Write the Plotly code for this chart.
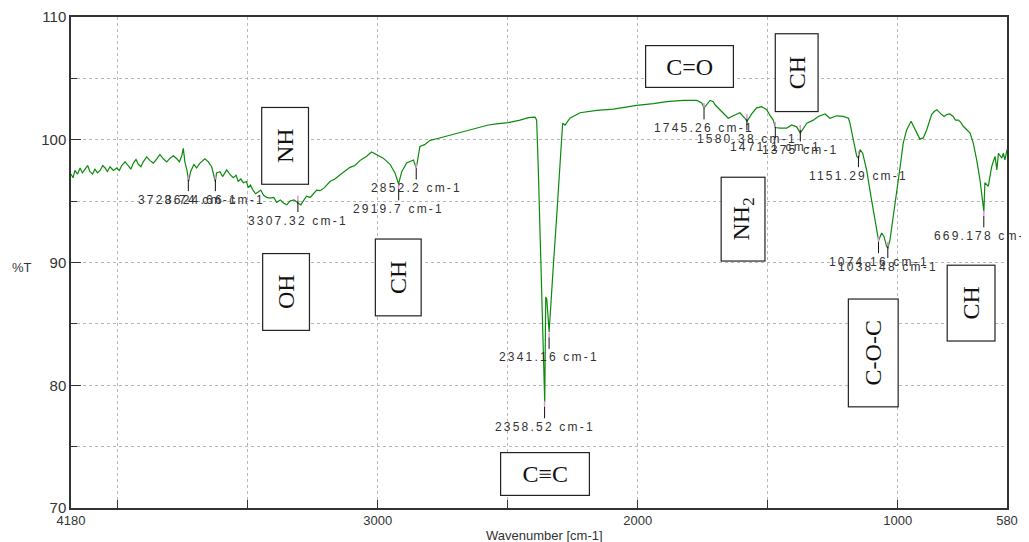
import plotly.graph_objects as go

# ---------------- data ----------------
wavenumber = [4180, 4172, 4165, 4155, 4145, 4136, 4126, 4116, 4107, 4097, 4088, 4078, 4068, 4058, 4049,
              4040, 4030, 4017, 4004, 3994, 3985, 3972, 3960, 3950, 3940, 3930, 3921, 3911, 3902, 3889,
              3876, 3863, 3850, 3838, 3825, 3812, 3799, 3786, 3773, 3763, 3754, 3748, 3742, 3733, 3728,
              3720, 3707, 3697, 3684, 3665, 3652, 3639, 3625, 3620, 3607, 3597, 3581, 3568, 3556, 3545,
              3537, 3527, 3517, 3505, 3498, 3490, 3479, 3470, 3460, 3450, 3440, 3428, 3415, 3400, 3389,
              3375, 3363, 3350, 3338, 3322, 3307, 3296, 3287, 3274, 3260, 3248, 3235, 3222, 3205, 3184,
              3165, 3145, 3125, 3107, 3088, 3069, 3055, 3043, 3024, 3004, 2979, 2953, 2934, 2920, 2908,
              2889, 2876, 2863, 2852, 2838, 2820, 2799, 2770, 2735, 2700, 2671, 2640, 2607, 2575, 2543,
              2498, 2453, 2421, 2395, 2389, 2383, 2376, 2370, 2364, 2360, 2358, 2354, 2350, 2341, 2331,
              2325, 2312, 2299, 2289, 2280, 2261, 2222, 2158, 2094, 2004, 1940, 1889, 1825, 1773, 1754,
              1745, 1722, 1710, 1703, 1671, 1652, 1633, 1607, 1588, 1580, 1562, 1543, 1524, 1504, 1492,
              1479, 1471, 1453, 1427, 1408, 1389, 1375, 1350, 1325, 1306, 1280, 1261, 1235, 1210, 1190,
              1184, 1171, 1158, 1151, 1145, 1135, 1120, 1101, 1081, 1074, 1062, 1053, 1043, 1038, 1030,
              1017, 1004, 991, 979, 966, 949, 934, 915, 902, 889, 870, 860, 850, 840, 831,
              822, 812, 800, 787, 778, 767, 757, 748, 722, 710, 697, 684, 669, 665, 652,
              639, 626, 619, 613, 600, 594, 588, 580]

transmittance = [97.2, 96.9, 97.5, 97.2, 97.7, 97.3, 97.6, 97.9, 97.4, 97.2, 97.6, 97.3, 97.5, 97.9, 97.7,
                 97.4, 97.8, 97.5, 97.7, 97.5, 97.9, 98.2, 97.9, 97.6, 98.1, 98.4, 98.0, 97.8, 98.2, 98.6,
                 98.3, 98.1, 98.45, 98.8, 98.45, 98.2, 98.5, 98.7, 98.45, 98.2, 98.7, 99.3, 98.2, 97.4, 96.6,
                 97.4, 98.0, 97.7, 98.1, 98.45, 98.2, 97.8, 96.6, 97.3, 97.4, 97.0, 97.55, 97.15, 96.9, 97.1,
                 96.6, 96.8, 96.5, 96.6, 96.1, 96.3, 95.85, 95.6, 95.75, 95.9, 95.5, 95.3, 95.25, 95.3, 94.9,
                 95.1, 94.85, 94.7, 95.0, 95.1, 94.85, 94.7, 95.0, 95.4, 95.3, 95.6, 95.9, 95.85, 96.1, 96.6,
                 96.8, 97.15, 97.5, 97.75, 97.9, 98.3, 98.5, 98.65, 99.0, 98.8, 98.5, 98.0, 97.3, 96.4, 97.4,
                 98.1, 98.2, 98.35, 97.7, 99.45, 99.6, 99.95, 100.1, 100.3, 100.5, 100.7, 100.85, 101.05, 101.2, 101.3,
                 101.4, 101.6, 101.8, 101.85, 101.6, 97.8, 92.4, 86.95, 81.5, 79.6, 78.65, 87.2, 87.0, 84.35, 87.2,
                 89.7, 93.75, 97.8, 101.35, 101.2, 101.75, 102.2, 102.4, 102.5, 102.8, 102.95, 103.1, 103.2, 103.2, 103.0,
                 102.6, 103.2, 103.1, 102.85, 102.2, 101.75, 101.95, 102.2, 101.75, 101.5, 102.1, 102.6, 102.7, 102.45, 102.0,
                 101.6, 101.0, 100.95, 100.95, 101.2, 101.05, 100.55, 101.35, 101.6, 101.9, 102.1, 101.75, 101.95, 101.9, 101.75,
                 101.35, 100.0, 98.65, 98.5, 99.2, 98.9, 97.55, 95.1, 92.7, 91.8, 92.4, 92.1, 91.3, 91.2, 91.85,
                 93.75, 95.65, 97.8, 99.75, 100.8, 101.5, 100.8, 100.05, 100.15, 100.8, 102.05, 102.3, 102.45, 102.2, 102.05,
                 101.9, 102.05, 102.1, 101.9, 101.6, 101.6, 101.4, 101.1, 100.55, 99.75, 98.4, 96.75, 94.15, 96.5, 96.2,
                 97.8, 98.65, 97.55, 98.9, 98.5, 98.9, 98.35, 99.2]

assert len(wavenumber) == len(transmittance)

# peak picks
peak_wn = [3728.74, 3624.66, 3307.32, 2919.7, 2852.2, 2358.52, 2341.16, 1745.26, 1580.38,
           1471.1, 1375, 1151.29, 1074.16, 1038.48, 669.178]
peak_T = [97.15, 97.15, 95.45, 96.4, 98.1, 78.65, 84.3, 103.0, 102.1,
          101.45, 101.2, 99.1, 92.1, 91.7, 94.2]
peak_labels = ["3728.74 cm-1", "3624.66 cm-1", "3307.32 cm-1", "2919.7 cm-1", "2852.2 cm-1",
               "2358.52 cm-1", "2341.16 cm-1", "1745.26 cm-1", "1580.38 cm-1", "1471.1 cm-1",
               "1375 cm-1", "1151.29 cm-1", "1074.16 cm-1", "1038.48 cm-1", "669.178 cm-1"]

# functional group boxes
group_labels = ["NH", "C=O", "CH", "OH", "CH", "NH<sub>2</sub>", "C≡C", "C-O-C", "CH"]
group_wn = [3357, 1800, 1388, 3353, 2920, 1595, 2357, 1095, 720]
group_T = [99.5, 106.0, 105.5, 87.6, 88.75, 93.5, 72.8, 82.6, 86.7]

x_tick_vals = [4180, 3000, 2000, 1000, 580]
x_tick_text = ["4180", "3000", "2000", "1000", "580"]
x_minor_vals = [4000, 3500, 3000, 2500, 2000, 1500, 1000]
y_tick_vals = [70, 80, 90, 100, 110]

# ---------------- styles ----------------
group_angle = [-90, 0, -90, -90, -90, -90, 0, -90, -90]
group_box = [(74, 44), (85, 39), (75, 40), (74, 44), (74, 43), (81, 41), (86, 40), (105, 47), (73, 45)]
marker_len = 0.4  # length (in %T) of the pink peak-pick marks

fig = go.Figure()
fig.add_trace(go.Scatter(x=wavenumber, y=transmittance, mode="lines",
                         line=dict(color="#0c8a0c", width=1.2), hoverinfo="skip"))

# small pink marks at the picked peaks
pink_x, pink_y = [], []
for w, t in zip(peak_wn, peak_T):
    pink_x += [w, w, None]
    pink_y += [t, t - marker_len, None]
fig.add_trace(go.Scatter(x=pink_x, y=pink_y, mode="lines",
                         line=dict(color="#f08cf0", width=1.5), hoverinfo="skip"))

annotations = []
for w, t, lab in zip(peak_wn, peak_T, peak_labels):
    annotations.append(dict(
        x=w, y=t - marker_len, xref="x", yref="y",
        text='<span style="letter-spacing:2.2px">' + lab + '</span>',
        showarrow=True, arrowhead=0, arrowwidth=1, arrowcolor="#111",
        ax=0, ay=20, font=dict(family="Liberation Sans", size=12, color="#333")))

for lab, w, t, ang, (bw, bh) in zip(group_labels, group_wn, group_T, group_angle, group_box):
    annotations.append(dict(
        x=w, y=t, xref="x", yref="y", text=lab, showarrow=False, textangle=ang,
        width=bw, height=bh, bgcolor="white", bordercolor="#222", borderwidth=1.2, borderpad=1,
        xanchor="center", yanchor="middle",
        font=dict(family="Liberation Serif", size=24, color="#111")))

annotations.append(dict(x=-0.0524, y=0.489, xref="paper", yref="paper", text="%T", showarrow=False,
                        xanchor="center", yanchor="middle",
                        font=dict(family="Liberation Sans", size=13, color="#333")))
annotations.append(dict(x=0.506, y=-0.055, xref="paper", yref="paper", text="Wavenumber [cm-1]",
                        showarrow=False, xanchor="center", yanchor="middle",
                        font=dict(family="Liberation Sans", size=13, color="#333")))

# page body has an 8px margin, so the figure is 8px smaller and margins shifted
fig.update_layout(
    width=1021, height=534,
    margin=dict(l=63, r=22, t=9, b=34, autoexpand=False),
    paper_bgcolor="white", plot_bgcolor="white",
    showlegend=False,
    annotations=annotations,
    xaxis=dict(range=[4180, 580], tickmode="array", tickvals=x_tick_vals, ticktext=x_tick_text,
               ticks="", showgrid=False, zeroline=False, automargin=False,
               showline=True, linecolor="#333", linewidth=1.5, mirror=True,
               tickfont=dict(family="Liberation Sans", size=13, color="#333"),
               minor=dict(tickmode="array", tickvals=x_minor_vals, ticks="inside", ticklen=8,
                          tickcolor="#333", tickwidth=1,
                          showgrid=True, gridcolor="#b8b8b8", griddash="dot", gridwidth=1)),
    yaxis=dict(range=[70, 110], tickmode="array", tickvals=y_tick_vals,
               ticks="inside", ticklen=10, tickcolor="#333", tickwidth=1, automargin=False,
               showgrid=True, gridcolor="#b8b8b8", griddash="dot", gridwidth=1, zeroline=False,
               showline=True, linecolor="#333", linewidth=1.5, mirror=True,
               tickfont=dict(family="Liberation Sans", size=15, color="#333"),
               minor=dict(dtick=5, tick0=70, ticks="inside", ticklen=6, tickcolor="#333",
                          showgrid=True, gridcolor="#b8b8b8", griddash="dot", gridwidth=1)),
)

fig.write_html("out.html")
